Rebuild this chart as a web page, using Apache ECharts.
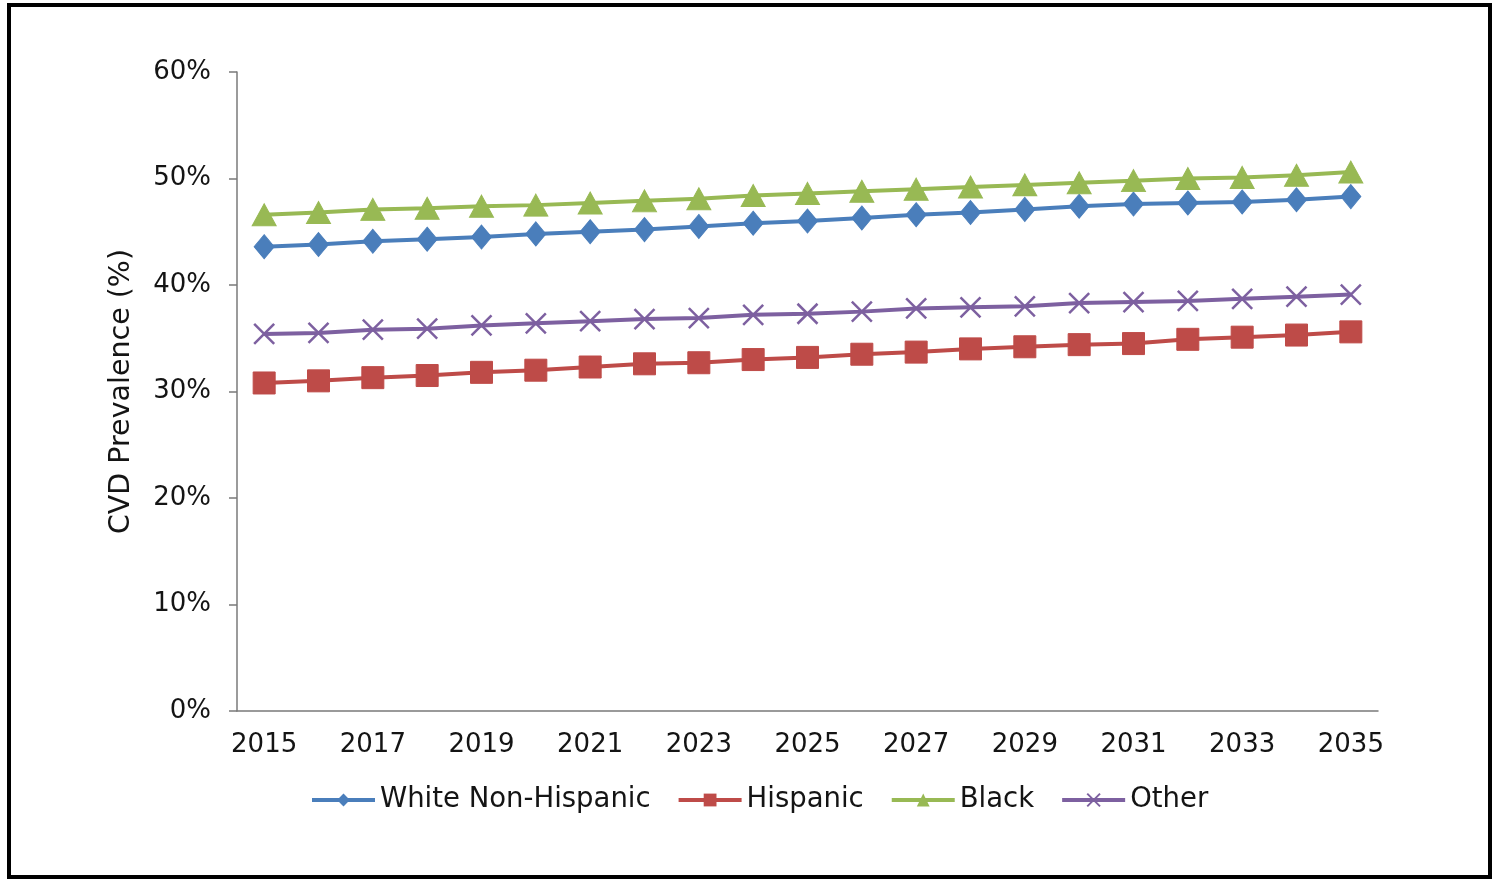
<!DOCTYPE html>
<html>
<head>
<meta charset="utf-8">
<script src="https://cdn.jsdelivr.net/npm/echarts@6/dist/echarts.min.js"></script>
<style>
  html, body { margin: 0; padding: 0; background: #fff; }
  #chart { width: 1493px; height: 879px; }
</style>
</head>
<body>
<div id="chart"></div>
<script>
// Projected CVD prevalence by race/ethnicity, 2015–2035 (%)
const years = ['2015','2016','2017','2018','2019','2020','2021','2022','2023','2024','2025',
               '2026','2027','2028','2029','2030','2031','2032','2033','2034','2035'];

const whiteNonHispanic = [43.6, 43.8, 44.1, 44.3, 44.5, 44.8, 45.0, 45.2, 45.5, 45.8, 46.0,
                          46.3, 46.6, 46.8, 47.1, 47.4, 47.6, 47.7, 47.8, 48.0, 48.3];
const hispanic = [30.8, 31.0, 31.3, 31.5, 31.8, 32.0, 32.3, 32.6, 32.7, 33.0, 33.2,
                  33.5, 33.7, 34.0, 34.2, 34.4, 34.5, 34.9, 35.1, 35.3, 35.6];
const black = [46.6, 46.8, 47.1, 47.2, 47.4, 47.5, 47.7, 47.9, 48.1, 48.4, 48.6,
               48.8, 49.0, 49.2, 49.4, 49.6, 49.8, 50.0, 50.1, 50.3, 50.6];
const other = [35.4, 35.5, 35.8, 35.9, 36.2, 36.4, 36.6, 36.8, 36.9, 37.2, 37.3,
               37.5, 37.8, 37.9, 38.0, 38.3, 38.4, 38.5, 38.7, 38.9, 39.1];

const seriesNames = ['White Non-Hispanic', 'Hispanic', 'Black', 'Other'];
const yTicks = [0, 10, 20, 30, 40, 50, 60];

const FONT = 'DejaVu Sans';
const TEXT = '#141414';
const AXIS = '#7a7a7a';
const crossPath = 'path://M0,0 L2,2 M2,0 L0,2';

const chart = echarts.init(document.getElementById('chart'), null, { renderer: 'canvas' });

function lineSeries(name, data, color, symbol, size, extra) {
  return Object.assign({
    name: name,
    type: 'line',
    data: data,
    symbol: symbol,
    symbolSize: size,
    showAllSymbol: true,
    lineStyle: { color: color, width: 4 },
    itemStyle: { color: color, borderColor: color },
    emphasis: { disabled: true },
    animation: false
  }, extra || {});
}

chart.setOption({
  backgroundColor: '#ffffff',
  textStyle: { fontFamily: FONT },
  grid: { left: 237, right: 115, top: 72, bottom: 168, containLabel: false },
  legend: {
    left: 310,
    top: 786,
    padding: 0,
    itemWidth: 63,
    itemHeight: 16,
    itemGap: 26,
    lineStyle: { width: 4 },
    textStyle: { fontFamily: FONT, fontSize: 27.5, color: TEXT },
    data: seriesNames
  },
  xAxis: {
    type: 'category',
    data: years,
    boundaryGap: true,
    axisLine: { lineStyle: { color: AXIS, width: 1.5 } },
    axisTick: { alignWithLabel: true, interval: 0, length: 8, inside: false, lineStyle: { color: AXIS, width: 1.5 } },
    axisLabel: { interval: 1, fontFamily: FONT, fontSize: 26, color: TEXT, margin: 21 },
    splitLine: { show: false }
  },
  yAxis: {
    type: 'value',
    min: yTicks[0],
    max: yTicks[yTicks.length - 1],
    interval: 10,
    name: 'CVD Prevalence (%)',
    nameLocation: 'middle',
    nameGap: 101,
    nameTextStyle: { fontFamily: FONT, fontSize: 28.5, color: TEXT },
    axisLine: { show: true, lineStyle: { color: AXIS, width: 1.5 } },
    axisTick: { show: true, length: 8, lineStyle: { color: AXIS, width: 1.5 } },
    axisLabel: { fontFamily: FONT, fontSize: 26, color: TEXT, margin: 26, formatter: '{value}%' },
    splitLine: { show: false }
  },
  series: [
    lineSeries(seriesNames[0], whiteNonHispanic, '#4a7ebb', 'diamond', [20, 24]),
    lineSeries(seriesNames[1], hispanic, '#be4b48', 'rect', 22),
    lineSeries(seriesNames[2], black, '#98b954', 'triangle', [24, 22]),
    lineSeries(seriesNames[3], other, '#7d60a0', crossPath, 20, {
      itemStyle: { color: 'none', borderColor: '#7d60a0', borderWidth: 2.5 }
    })
  ],
  graphic: [{
    type: 'rect',
    silent: true,
    shape: { x: 9, y: 5, width: 1481, height: 872 },
    style: { fill: 'none', stroke: '#000', lineWidth: 4 }
  }]
});
</script>
</body>
</html>
